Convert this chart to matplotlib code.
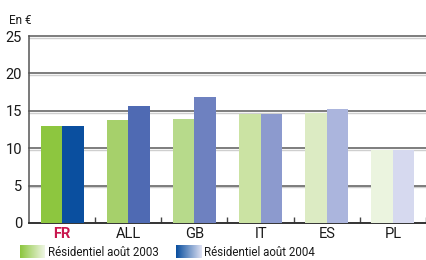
import matplotlib

matplotlib.use("Agg")

import matplotlib.pyplot as plt  # noqa: E402
import matplotlib.transforms as mtransforms  # noqa: E402
import numpy as np  # noqa: E402

plt.rcParams["font.family"] = ["Roboto", "DejaVu Sans"]

pays = ["FR", "ALL", "GB", "IT", "ES", "PL"]
aout_2003 = [13.0, 13.8, 13.9, 14.6, 14.7, 9.8]
aout_2004 = [13.0, 15.6, 16.8, 14.6, 15.2, 9.8]
couleurs_2003 = ["#8dc63f", "#a6d06b", "#b7da8b", "#cbe3a3", "#dcebc3", "#ebf4df"]
couleurs_2004 = ["#0a4f9f", "#4f6ab3", "#6e81c0", "#8c9ace", "#abb5dd", "#d6d9ef"]
yticks = [0, 5, 10, 15, 20, 25]

fig = plt.figure(figsize=(4.26, 2.60), dpi=100)
ax = fig.add_axes([29 / 426, 1 - 223 / 260, 1 - 29 / 426, (223 - 36) / 260])

x = np.arange(len(pays))
w = 0.325
ax.bar(x - w / 2, aout_2003, width=w, color=couleurs_2003, zorder=3)
ax.bar(x + w / 2, aout_2004, width=w, color=couleurs_2004, zorder=3)

# grille : trait sombre + liseré clair en dessous
ytrans = ax.get_yaxis_transform()
shadow = mtransforms.offset_copy(ytrans, fig=fig, x=0, y=-1.3, units="points")
for val in yticks[1:]:
    ax.plot([0, 1], [val, val], color="#cfcfcf", lw=1.0, zorder=1, transform=shadow, clip_on=False)
    ax.plot([0, 1], [val, val], color="#5a5a5a", lw=1.1, zorder=2, transform=ytrans, clip_on=False)

ax.set_xlim(-0.5, len(pays) - 0.5)
ax.set_ylim(0, 25)
ax.set_yticks(yticks)
ax.set_yticklabels([str(v) for v in yticks], fontsize=10.5, color="#1a1a1a")
ax.tick_params(axis="y", length=0, pad=5)

ax.set_xticks(x)
ax.set_xticklabels(pays, fontsize=10.5, color="#1a1a1a")
ax.tick_params(axis="x", length=0, pad=3)
ax.get_xticklabels()[0].set_color("#c8174e")
ax.get_xticklabels()[0].set_fontweight("bold")
ax.set_xticks(np.arange(0.5, len(pays), 1.0), minor=True)
ax.tick_params(axis="x", which="minor", direction="in", length=4, width=1.0, color="#444444")

for side in ["top", "right"]:
    ax.spines[side].set_visible(False)
ax.spines["left"].set_color("#555555")
ax.spines["left"].set_linewidth(1.1)
ax.spines["bottom"].set_color("#333333")
ax.spines["bottom"].set_linewidth(1.4)

fig.text(9 / 426, 1 - 20 / 260, "En €", fontsize=8.5, color="#1a1a1a", va="center")

# légende avec dégradés
grad = np.linspace(0, 1, 50).reshape(1, -1)
legend_items = [
    (20, ["#8dc63f", "#eef6e3"], "Résidentiel août 2003", 48),
    (176, ["#0a4f9f", "#dde0f2"], "Résidentiel août 2004", 204),
]
for x0, (c0, c1), label, xt in legend_items:
    lax = fig.add_axes([x0 / 426, 1 - 258 / 260, 25 / 426, 13 / 260])
    cmap = matplotlib.colors.LinearSegmentedColormap.from_list("g", [c0, c1])
    lax.imshow(grad, aspect="auto", cmap=cmap)
    lax.axis("off")
    fig.text(xt / 426, 1 - 252 / 260, label, fontsize=8.3, color="#1a1a1a", va="center")

fig.savefig("out.png", dpi=100)
